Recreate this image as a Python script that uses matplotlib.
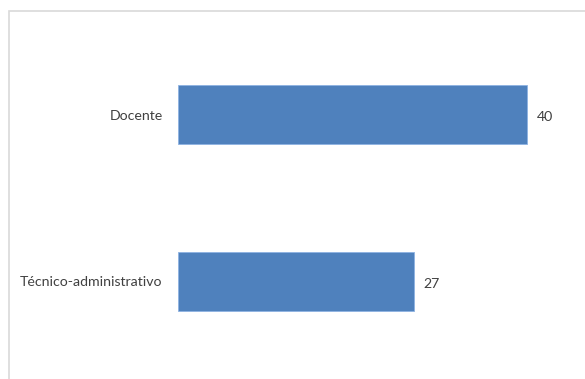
import matplotlib.pyplot as plt
from matplotlib.patches import Rectangle

categorias = ['Técnico-administrativo', 'Docente']
valores = [27, 40]

W, H = 585, 379
fig = plt.figure(figsize=(W / 100, H / 100), dpi=100)

# chart border (cut off at right and bottom like in the original)
fig.patches.append(Rectangle((8.5 / W, -0.1), 1.2, (H - 11.5) / H + 0.1,
                             transform=fig.transFigure, fill=False,
                             edgecolor='#d9d9d9', linewidth=1.2))

# axes placed in pixels: zero at x=178, 8.725 px per unit
x0, px_unit = 178, 8.725
y_top, y_bot = 114.5 - 0.5 * 167, 281.5 + 0.5 * 167
ax = fig.add_axes([x0 / W, 1 - y_bot / H, 45 * px_unit / W, (y_bot - y_top) / H])
ax.set_xlim(0, 45)
ax.set_ylim(-0.5, 1.5)

ypos = range(len(categorias))
bars = ax.barh(ypos, valores, height=0.353, color='#4f81bd', edgecolor='#8db3e2', linewidth=0.6)

ax.set_yticks(list(ypos))
ax.set_yticklabels(categorias, fontsize=10.2, color='#404040', family='Lato')
ax.tick_params(axis='y', length=0, pad=11)
ax.set_xticks([])
for s in ax.spines.values():
    s.set_visible(False)

for b, v in zip(bars, valores):
    ax.annotate(str(v), (b.get_width(), b.get_y() + b.get_height() / 2),
                xytext=(7, -1.5), textcoords='offset points', va='center', ha='left',
                fontsize=10.2, color='#404040', family='Lato')

fig.savefig('out.png', dpi=100)
